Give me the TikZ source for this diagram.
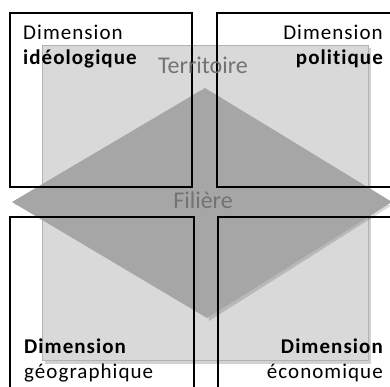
\documentclass[tikz,border=0pt]{standalone}
\usepackage{fontspec}
\setmainfont{Carlito}[LetterSpace=5,Ligatures=CommonOff]
\newfontfamily\labfont{Carlito}[Ligatures=CommonOff]
\begin{document}
\begin{tikzpicture}[x=1pt,y=-1pt,
  dimbox/.style={draw=black,line width=1.8pt},
  dimtext/.style={inner sep=0pt,font=\fontsize{21}{25}\selectfont,text=black},
  bigtext/.style={inner sep=0pt,font=\labfont\fontsize{24}{28}\selectfont,text=black!55}]
\useasboundingbox (0,0) rectangle (390,387);
\fill[white] (0,0) rectangle (390,387);
% Territoire rectangle with shadow
\fill[black,opacity=0.18] (45,48) rectangle (371,364);
\node[draw=black!30,fill=black!15,line width=0.8pt,minimum width=326pt,minimum height=315pt,inner sep=0pt,anchor=north west] (terr) at (42,45) {};
% Filiere diamond with shadow
\fill[black,opacity=0.15] (207,91) -- (14,205) -- (392,205) -- (209,321) -- cycle;
\coordinate (dt) at (205,88);
\coordinate (dl) at (12,202);
\coordinate (dr) at (392,202);
\coordinate (db) at (207,318);
\fill[black!35] (dt) -- (dl) -- (db) -- (dr) -- cycle;
% Dimension boxes
\draw[dimbox] (10,13) rectangle (192,187);
\draw[dimbox] (217,13) rectangle (395,187);
\draw[dimbox] (10,217) rectangle (194,395);
\draw[dimbox] (218,217) rectangle (395,395);
% Labels
\node[bigtext,anchor=base] (tlabel) at (203,74) {Territoire};
\node[bigtext,anchor=base] (flabel) at (203,208) {Filière};
\node[dimtext,anchor=base west] (d1a) at (23,40) {Dimension};
\node[dimtext,anchor=base west] (d1b) at (23,65) {\bfseries idéologique};
\node[dimtext,anchor=base east] (d2a) at (383,40) {Dimension};
\node[dimtext,anchor=base east] (d2b) at (383,65) {\bfseries politique};
\node[dimtext,anchor=base west] (d3a) at (24,353) {\bfseries Dimension};
\node[dimtext,anchor=base west] (d3b) at (24,378) {géographique};
\node[dimtext,anchor=base east] (d4a) at (383,353) {\bfseries Dimension};
\node[dimtext,anchor=base east] (d4b) at (383,378) {économique};
\end{tikzpicture}
\end{document}
